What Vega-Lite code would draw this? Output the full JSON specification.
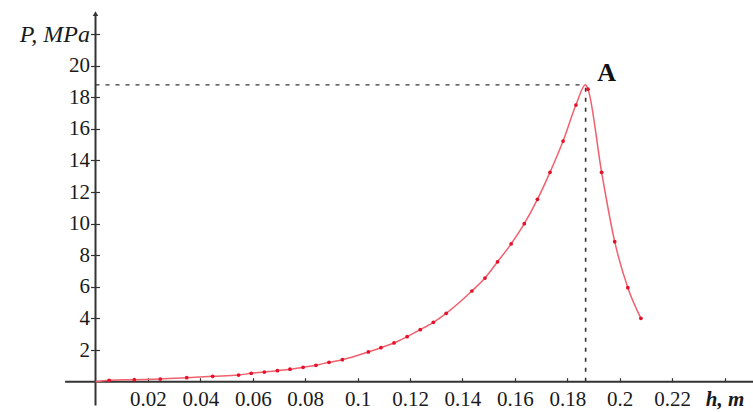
{
  "$schema": "https://vega.github.io/schema/vega-lite/v6.json",
  "width": 753,
  "height": 412,
  "padding": 0,
  "autosize": {"type": "none"},
  "background": "white",
  "config": {"view": {"stroke": null}, "font": "Liberation Serif"},
  "datasets": {
    "curve": [
      {"h": 0.0, "P": 0.0, "dot": false},
      {"h": 0.0052, "P": 0.09, "dot": true},
      {"h": 0.0148, "P": 0.13, "dot": true},
      {"h": 0.0247, "P": 0.17, "dot": true},
      {"h": 0.0348, "P": 0.25, "dot": true},
      {"h": 0.0447, "P": 0.34, "dot": true},
      {"h": 0.0546, "P": 0.42, "dot": true},
      {"h": 0.0594, "P": 0.53, "dot": true},
      {"h": 0.0644, "P": 0.61, "dot": true},
      {"h": 0.0694, "P": 0.70, "dot": true},
      {"h": 0.0742, "P": 0.79, "dot": true},
      {"h": 0.0792, "P": 0.91, "dot": true},
      {"h": 0.0841, "P": 1.04, "dot": true},
      {"h": 0.0891, "P": 1.23, "dot": true},
      {"h": 0.0942, "P": 1.39, "dot": true},
      {"h": 0.1041, "P": 1.88, "dot": true},
      {"h": 0.1089, "P": 2.15, "dot": true},
      {"h": 0.1139, "P": 2.45, "dot": true},
      {"h": 0.1189, "P": 2.85, "dot": true},
      {"h": 0.1239, "P": 3.29, "dot": true},
      {"h": 0.1289, "P": 3.76, "dot": true},
      {"h": 0.1338, "P": 4.33, "dot": true},
      {"h": 0.1436, "P": 5.74, "dot": true},
      {"h": 0.1486, "P": 6.56, "dot": true},
      {"h": 0.1534, "P": 7.59, "dot": true},
      {"h": 0.1586, "P": 8.73, "dot": true},
      {"h": 0.1636, "P": 10.0, "dot": true},
      {"h": 0.1686, "P": 11.54, "dot": true},
      {"h": 0.1734, "P": 13.25, "dot": true},
      {"h": 0.1784, "P": 15.23, "dot": true},
      {"h": 0.1833, "P": 17.51, "dot": true},
      {"h": 0.18695, "P": 18.8, "dot": false},
      {"h": 0.1879, "P": 18.51, "dot": true},
      {"h": 0.1931, "P": 13.25, "dot": true},
      {"h": 0.1981, "P": 8.86, "dot": true},
      {"h": 0.2031, "P": 5.95, "dot": true},
      {"h": 0.2081, "P": 4.01, "dot": true}
    ],
    "peak": [{"h": 0.187, "P": 18.78, "base": 0, "label": "A"}]
  },
  "data": {"name": "peak"},
  "layer": [
    {
      "mark": {"type": "rule", "color": "#333333", "strokeWidth": 1.3, "strokeDash": [4, 6]},
      "encoding": {
        "x": {"field": "base", "type": "quantitative", "scale": {"domain": [-0.03644, 0.25086], "nice": false, "zero": false}, "axis": null},
        "x2": {"field": "h"},
        "y": {"field": "P", "type": "quantitative", "scale": {"domain": [-1.918, 24.158], "nice": false, "zero": false}, "axis": null}
      }
    },
    {
      "mark": {"type": "rule", "color": "#333333", "strokeWidth": 1.6, "strokeDash": [4, 6]},
      "encoding": {
        "x": {"field": "h", "type": "quantitative", "scale": {"domain": [-0.03644, 0.25086], "nice": false, "zero": false}, "axis": null},
        "y": {"field": "base", "type": "quantitative", "scale": {"domain": [-1.918, 24.158], "nice": false, "zero": false}, "axis": null},
        "y2": {"field": "P"}
      }
    },
    {
      "mark": {"type": "rule", "color": "#333333", "strokeWidth": 2},
      "encoding": {
        "x": {"datum": -0.0116, "type": "quantitative", "axis": null},
        "x2": {"datum": 0.2509},
        "y": {"datum": 0, "type": "quantitative", "axis": null}
      }
    },
    {
      "mark": {"type": "rule", "color": "#333333", "strokeWidth": 2},
      "encoding": {
        "x": {"datum": 0, "type": "quantitative", "axis": null},
        "y": {"datum": -1.5, "type": "quantitative", "axis": null},
        "y2": {"datum": 23.2}
      }
    },
    {
      "mark": {"type": "point", "shape": "triangle-up", "filled": true, "color": "#333333", "size": 30, "opacity": 1},
      "encoding": {
        "x": {"datum": 0, "type": "quantitative", "axis": null},
        "y": {"datum": 23.3, "type": "quantitative", "axis": null}
      }
    },
    {
      "data": {"name": "curve"},
      "mark": {"type": "line", "color": "#f0606e", "strokeWidth": 1.5, "interpolate": "monotone"},
      "encoding": {
        "x": {"field": "h", "type": "quantitative", "scale": {"domain": [-0.03644, 0.25086], "nice": false, "zero": false},
          "axis": {"orient": "top", "offset": -381.7, "values": [0.02, 0.04, 0.06, 0.08, 0.1, 0.12, 0.14, 0.16, 0.18, 0.2, 0.22, 0.24], "labels": false, "domain": false, "grid": false, "ticks": true, "tickSize": 4, "tickWidth": 1.2, "tickColor": "#333333", "title": null}},
        "y": {"field": "P", "type": "quantitative", "scale": {"domain": [-1.918, 24.158], "nice": false, "zero": false},
          "axis": {"orient": "right", "offset": -657.5, "values": [2, 4, 6, 8, 10, 12, 14, 16, 18, 20, 22], "labels": false, "domain": false, "grid": false, "ticks": true, "tickSize": 4, "tickWidth": 1.2, "tickColor": "#333333", "title": null}}
      }
    },
    {
      "data": {"name": "curve"},
      "transform": [{"filter": "datum.dot"}],
      "mark": {"type": "circle", "color": "#e5102a", "size": 14, "opacity": 1},
      "encoding": {
        "x": {"field": "h", "type": "quantitative", "scale": {"domain": [-0.03644, 0.25086], "nice": false, "zero": false},
          "axis": {"orient": "bottom", "offset": -30.3, "values": [0.02, 0.04, 0.06, 0.08, 0.1, 0.12, 0.14, 0.16, 0.18, 0.2, 0.22, 0.24], "format": "~g", "domain": false, "grid": false, "ticks": false, "tickSize": 0, "labelPadding": 7, "labelFont": "Liberation Serif", "labelFontSize": 21, "labelColor": "#1a1a1a", "labelOverlap": false, "labelFlush": false, "labelBound": false,
            "labelExpr": "datum.value > 0.23 ? 'h, m' : datum.label",
            "labelFontStyle": {"condition": {"test": "datum.value > 0.23", "value": "italic"}, "value": "normal"},
            "labelFontWeight": {"condition": {"test": "datum.value > 0.23", "value": "bold"}, "value": "normal"},
            "title": null}},
        "y": {"field": "P", "type": "quantitative", "scale": {"domain": [-1.918, 24.158], "nice": false, "zero": false},
          "axis": {"orient": "left", "offset": -95.5, "values": [2, 4, 6, 8, 10, 12, 14, 16, 18, 20, 22], "format": "~g", "domain": false, "grid": false, "ticks": true, "tickSize": 5, "tickWidth": 1.2, "tickColor": "#333333", "labelPadding": 1, "labelFont": "Liberation Serif", "labelFontSize": {"condition": {"test": "datum.value > 21", "value": 24}, "value": 21}, "labelColor": "#1a1a1a", "labelOverlap": false, "labelFlush": false, "labelBound": false,
            "labelExpr": "datum.value > 21 ? 'P, MPa' : datum.label",
            "labelFontStyle": {"condition": {"test": "datum.value > 21", "value": "italic"}, "value": "normal"},
            "title": null}}
      }
    },
    {
      "mark": {"type": "text", "font": "Liberation Serif", "fontSize": 26, "fontWeight": "bold", "color": "#111111", "align": "center", "baseline": "middle", "dx": 21, "dy": -12},
      "encoding": {
        "x": {"field": "h", "type": "quantitative", "scale": {"domain": [-0.03644, 0.25086], "nice": false, "zero": false}, "axis": null},
        "y": {"field": "P", "type": "quantitative", "scale": {"domain": [-1.918, 24.158], "nice": false, "zero": false}, "axis": null},
        "text": {"field": "label"}
      }
    }
  ],
  "resolve": {"axis": {"x": "independent", "y": "independent"}}
}
